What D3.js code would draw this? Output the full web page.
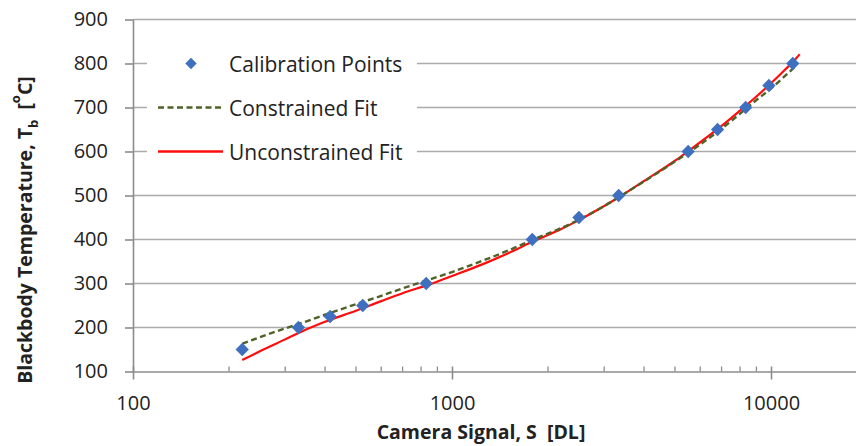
<!DOCTYPE html>
<html>
<head>
<meta charset="utf-8">
<script src="https://cdn.jsdelivr.net/npm/d3@7"></script>
<style>
  body { margin: 0; background: #fff; }
  svg { display: block; font-family: "Open Sans", sans-serif; }
  text { white-space: pre; }
</style>
</head>
<body>
<svg id="chart" width="856" height="446"></svg>
<script>
// ---- data ----
const seriesNames = ["Calibration Points", "Constrained Fit", "Unconstrained Fit"];

// calibration measurements: camera signal [DL] and blackbody temperature [°C]
const calibS = [220, 330, 415, 525, 830, 1785, 2500, 3330, 5500, 6800, 8330, 9850, 11700];
const calibT = [150, 200, 225, 250, 300, 400, 450, 500, 600, 650, 700, 750, 800];

// constrained fit curve
const constrainedS = [220, 250, 300, 350, 400, 500, 600, 700, 850, 1000, 1250, 1500, 1800,
                      2200, 2500, 3000, 3400, 4000, 5000, 5500, 6000, 7000, 8000, 9000, 10000, 11000, 11900];
const constrainedT = [163, 178, 198, 214, 229, 253, 272, 289, 309, 326, 352, 375, 400,
                      426, 445, 476, 500, 532, 577, 597, 616, 652, 686, 717, 743, 770, 793];

// unconstrained fit curve
const unconstrainedS = [220, 250, 300, 350, 400, 500, 600, 700, 850, 1000, 1250, 1500, 1800,
                        2200, 2500, 3000, 3400, 4000, 5000, 5500, 6000, 7000, 8000, 9000, 10000, 11000, 12000, 12300];
const unconstrainedT = [126, 146, 173, 196, 213, 238, 260, 278, 298, 317, 344, 369, 396,
                        424, 444, 476, 500, 533, 579, 601, 621, 658, 693, 725, 755, 784, 812, 821];

const xTickValues = [100, 1000, 10000];
const yTickValues = [100, 200, 300, 400, 500, 600, 700, 800, 900];

const xTitle = "Camera Signal, S  [DL]";

// ---- layout ----
const W = 856, H = 446;
const plotLeft = 133, plotTop = 19.5, plotBottom = 371.5;

const x = d3.scaleLog().domain([100, 100000]).range([plotLeft, 1090]);
const xMax = x.invert(W);
x.domain([100, xMax]).range([plotLeft, W]);
const y = d3.scaleLinear().domain([100, 900]).range([plotBottom, plotTop]);

const svg = d3.select("#chart");
const textColor = "#222";
const gridColor = "#ababab";
const axisColor = "#8c8c8c";

// horizontal gridlines
svg.append("g")
  .selectAll("line")
  .data(yTickValues.slice(1))
  .join("line")
  .attr("x1", plotLeft).attr("x2", W)
  .attr("y1", d => y(d)).attr("y2", d => y(d))
  .attr("stroke", gridColor)
  .attr("stroke-width", 1.6);

// y axis
const yAxis = svg.append("g")
  .attr("transform", `translate(${plotLeft},0)`)
  .call(d3.axisLeft(y).tickValues(yTickValues).tickSize(8).tickSizeOuter(0).tickPadding(17).tickFormat(d3.format("d")));
yAxis.select(".domain").attr("stroke", axisColor).attr("stroke-width", 1.6);
yAxis.selectAll(".tick line").attr("stroke", axisColor).attr("stroke-width", 1.6);
yAxis.selectAll(".tick text")
  .attr("font-size", 20).attr("fill", textColor)
  .attr("font-family", "Open Sans, sans-serif");

// x axis (major ticks cross the axis, minor ticks point inward)
const xAxis = svg.append("g")
  .attr("transform", `translate(0,${plotBottom})`)
  .call(d3.axisBottom(x).tickValues(xTickValues).tickSize(8).tickSizeOuter(0).tickFormat(d3.format("d")));
xAxis.select(".domain").attr("stroke", axisColor).attr("stroke-width", 1.6);
xAxis.selectAll(".tick line").attr("y1", -5).attr("stroke", axisColor).attr("stroke-width", 1.6);
xAxis.selectAll(".tick text")
  .attr("y", 31).attr("dy", "0.35em")
  .attr("font-size", 20).attr("fill", textColor)
  .attr("font-family", "Open Sans, sans-serif");

const minorTicks = x.ticks().filter(t => !xTickValues.includes(t) && x(t) > plotLeft && x(t) < W);
svg.append("g")
  .selectAll("line")
  .data(minorTicks)
  .join("line")
  .attr("x1", d => x(d)).attr("x2", d => x(d))
  .attr("y1", plotBottom - 5).attr("y2", plotBottom)
  .attr("stroke", axisColor)
  .attr("stroke-width", 1.3);

// axis titles
svg.append("text")
  .attr("x", 481).attr("y", 439)
  .attr("text-anchor", "middle")
  .attr("font-size", 19.5).attr("font-weight", 700)
  .attr("fill", textColor)
  .text(xTitle);

const yTitle = svg.append("text")
  .attr("transform", "translate(24,230) rotate(-90)")
  .attr("text-anchor", "middle")
  .attr("dominant-baseline", "central")
  .attr("font-size", 19.5).attr("font-weight", 700)
  .attr("fill", textColor);
yTitle.append("tspan").text("Blackbody Temperature, T");
yTitle.append("tspan").attr("font-size", 13).attr("baseline-shift", "sub").text("b");
yTitle.append("tspan").text("  [");
yTitle.append("tspan").attr("font-size", 13).attr("baseline-shift", "super").text("o");
yTitle.append("tspan").text("C]");

// fit curves
const line = d3.line()
  .x(d => x(d[0]))
  .y(d => y(d[1]))
  .curve(d3.curveMonotoneX);

svg.append("path")
  .datum(unconstrainedS.map((s, i) => [s, unconstrainedT[i]]))
  .attr("d", line)
  .attr("fill", "none")
  .attr("stroke", "#ff0d0d")
  .attr("stroke-width", 2.2);

svg.append("path")
  .datum(constrainedS.map((s, i) => [s, constrainedT[i]]))
  .attr("d", line)
  .attr("fill", "none")
  .attr("stroke", "#4f6228")
  .attr("stroke-width", 2.4)
  .attr("stroke-dasharray", "6,3.5");

// calibration points
const diamond = d3.symbol().type(d3.symbolSquare).size(88);
const markerColor = "#3f6fbf";
svg.append("g")
  .selectAll("path")
  .data(calibS.map((s, i) => [s, calibT[i]]))
  .join("path")
  .attr("d", diamond)
  .attr("transform", d => `translate(${x(d[0])},${y(d[1])}) rotate(45)`)
  .attr("fill", markerColor);

// legend
const legend = svg.append("g");
legend.append("rect")
  .attr("x", 147).attr("y", 40)
  .attr("width", 270).attr("height", 136)
  .attr("fill", "#fff");

const rowY = [y(800), y(700), y(600)];
legend.append("path")
  .attr("d", d3.symbol().type(d3.symbolSquare).size(64))
  .attr("transform", `translate(191,${rowY[0]}) rotate(45)`)
  .attr("fill", markerColor);
legend.append("line")
  .attr("x1", 158).attr("x2", 223)
  .attr("y1", rowY[1]).attr("y2", rowY[1])
  .attr("stroke", "#4f6228").attr("stroke-width", 2.4)
  .attr("stroke-dasharray", "6,3.5");
legend.append("line")
  .attr("x1", 158).attr("x2", 223)
  .attr("y1", rowY[2]).attr("y2", rowY[2])
  .attr("stroke", "#ff0d0d").attr("stroke-width", 2.4);

legend.selectAll("text")
  .data(seriesNames)
  .join("text")
  .attr("x", 229)
  .attr("y", (d, i) => rowY[i])
  .attr("dominant-baseline", "central")
  .attr("font-size", 21)
  .attr("fill", textColor)
  .text(d => d);
</script>
</body>
</html>
